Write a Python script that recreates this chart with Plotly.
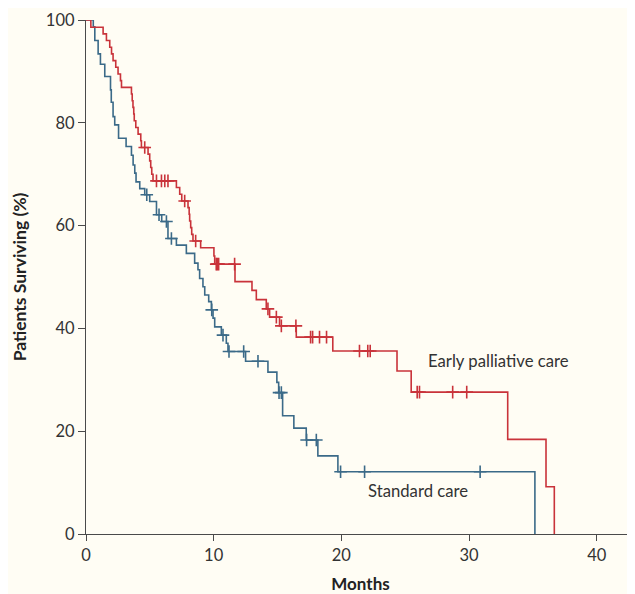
import numpy as np
import plotly.graph_objects as go

# Kaplan-Meier step data (months, % surviving after the step)
early_t = [0, 0.38, 1.34, 1.60, 1.86, 2.00, 2.12, 2.33, 2.51, 2.70, 2.78, 3.56, 3.62, 3.68, 3.74, 3.78,
           3.90, 4.08, 4.29, 4.34, 4.86, 4.99, 5.07, 5.15, 5.25, 7.08, 7.34, 7.50, 7.99, 8.08, 8.12,
           8.20, 8.28, 8.38, 8.98, 10.02, 10.08, 11.67, 13.00, 13.34, 14.12, 14.38, 15.16, 16.47,
           19.33, 24.36, 25.47, 33.03, 36.03, 36.68]
early_s = [100, 98.6, 97.3, 96.0, 94.7, 93.4, 92.1, 90.8, 89.5, 88.2, 86.9, 85.6, 84.3, 83.0, 81.7, 80.4,
           79.1, 77.8, 76.5, 75.2, 73.9, 72.6, 71.3, 70.0, 68.7, 67.4, 66.1, 64.8, 63.5, 62.2, 60.9,
           59.6, 58.3, 57.0, 55.7, 54.1, 52.5, 49.1, 47.4, 45.6, 43.8, 42.2, 40.5, 38.3,
           35.6, 31.7, 27.6, 18.4, 9.2, 0]
early_censor = [4.60, 5.52, 5.91, 6.17, 6.42, 7.73, 8.59, 10.20, 10.29, 10.39, 11.64, 14.25, 14.91,
                15.30, 16.44, 17.59, 17.75, 18.29, 18.84, 21.42, 22.07, 22.26, 25.94, 26.12, 28.72, 29.82]

std_t = [0, 0.57, 0.69, 0.95, 1.13, 1.47, 1.92, 1.98, 2.12, 2.25, 2.55, 3.14, 3.56, 3.69, 3.82, 3.92,
         4.21, 4.60, 4.99, 5.52, 5.93, 6.42, 7.08, 7.86, 8.51, 8.77, 8.90, 9.16, 9.30, 9.61, 9.82,
         9.95, 10.08, 10.60, 10.99, 11.12, 12.50, 14.25, 14.95, 15.09, 15.40, 16.28, 17.25, 18.16,
         19.73, 35.16]
std_s = [100, 98.7, 96.0, 93.4, 91.4, 89.0, 86.4, 84.0, 81.2, 79.6, 77.0, 75.4, 73.7, 71.8, 70.2, 68.5,
         67.2, 66.0, 64.7, 62.1, 60.8, 57.5, 56.2, 54.6, 52.7, 51.4, 49.7, 48.1, 46.5, 45.2, 43.6,
         42.0, 40.3, 38.7, 37.1, 35.5, 33.6, 31.5, 29.5, 27.5, 23.0, 20.6, 18.3, 15.2,
         12.1, 0]
std_censor = [4.76, 5.72, 6.30, 6.69, 9.85, 10.73, 11.20, 12.35, 13.47, 15.12, 15.30, 17.28, 18.04,
              19.94, 21.82, 30.87]

x_ticks = [0, 10, 20, 30, 40]
y_ticks = [0, 20, 40, 60, 80, 100]

RED = "#c9333a"
BLUE = "#3b6a88"
BG = "#fffdf4"
FONT = "Lato"


def step_value(times, surv, t):
    idx = np.searchsorted(np.array(times), np.array(t), side="right") - 1
    return [surv[i] for i in idx]


fig = go.Figure()
for t, s, c, col, name in [(std_t, std_s, std_censor, BLUE, "Standard care"),
                           (early_t, early_s, early_censor, RED, "Early palliative care")]:
    fig.add_trace(go.Scatter(x=t, y=s, mode="lines", line=dict(color=col, width=1.6, shape="hv"),
                             cliponaxis=False, showlegend=False, name=name))
    fig.add_trace(go.Scatter(x=c, y=step_value(t, s, c), mode="markers", cliponaxis=False,
                             marker=dict(symbol="cross-thin", size=9, line=dict(color=col, width=1.6)),
                             showlegend=False))

fig.add_annotation(x=26.6, y=33.7, text="Early palliative care", showarrow=False, xanchor="left",
                   yanchor="middle", font=dict(family=FONT, size=16.7, color="#333333"))
fig.add_annotation(x=21.9, y=8.4, text="Standard care", showarrow=False, xanchor="left",
                   yanchor="middle", font=dict(family=FONT, size=16.7, color="#333333"))

fig.update_layout(
    width=627, height=586,
    margin=dict(l=78, r=0, t=12, b=60),
    paper_bgcolor=BG, plot_bgcolor=BG,
    font=dict(family=FONT, size=15, color="#333333"),
    xaxis=dict(range=[0, 43], tickvals=x_ticks, showgrid=False, zeroline=False, showline=True,
               linecolor="#4a4a4a", linewidth=1.3, ticks="outside", ticklen=6, tickcolor="#4a4a4a",
               tickfont=dict(family=FONT, size=16.5, color="#333333"),
               title=dict(text="<b>Months</b>", standoff=15,
                          font=dict(family=FONT, size=17, color="#222222"))),
    yaxis=dict(range=[0, 100], tickvals=y_ticks, showgrid=False, zeroline=False, showline=True,
               linecolor="#4a4a4a", linewidth=1.3, ticks="outside", ticklen=7, tickcolor="#4a4a4a",
               tickfont=dict(family=FONT, size=16.5, color="#333333"),
               title=dict(text="<b>Patients Surviving (%)</b>", standoff=14,
                          font=dict(family=FONT, size=17.5, color="#222222"))),
)

fig.write_html("out.html")
